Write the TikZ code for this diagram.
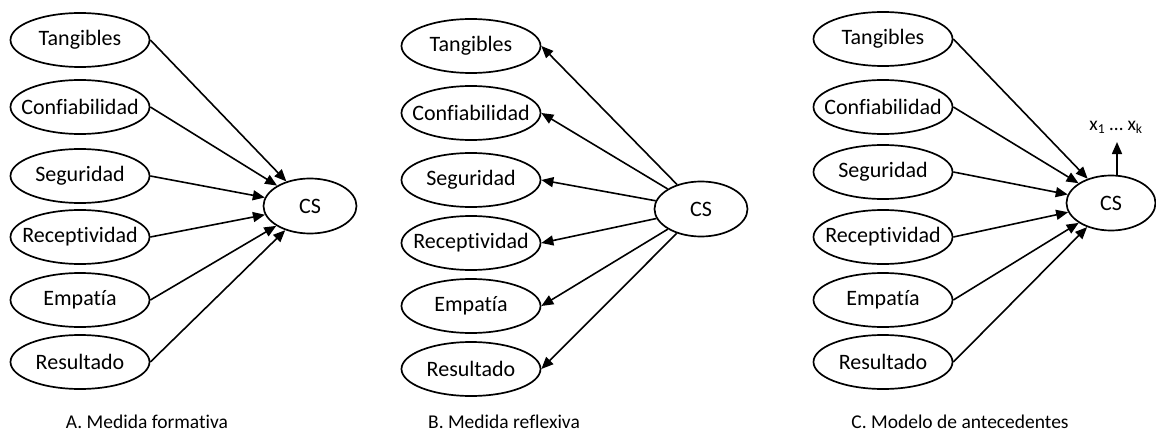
\documentclass[tikz,border=0pt]{standalone}
\usepackage{fontspec}
\setmainfont{Carlito}[Ligatures={NoCommon,NoContextual}]
\usetikzlibrary{arrows.meta,shapes.geometric}
\begin{document}
\begin{tikzpicture}[x=1pt,y=-1pt,
  var/.style={draw,line width=1.7pt,ellipse,minimum width=139pt,minimum height=54pt,inner sep=0pt,font=\fontsize{22}{26}\selectfont},
  cs/.style={var,minimum width=93pt,minimum height=55pt},
  link/.style={line width=1.6pt,-{Triangle[length=12pt,width=10pt]}},
  captxt/.style={font=\fontsize{19.5}{23}\selectfont,inner sep=0pt}]
\useasboundingbox (0,0) rectangle (1156,433);
% Panel A
\node[var] (aT) at (80,40) {\makebox[0pt]{Tangibles}};
\node[var] (aC) at (80,107) {\makebox[0pt]{Confiabilidad}};
\node[var] (aS) at (80,176) {\makebox[0pt]{Seguridad}};
\node[var] (aR) at (80,237) {\makebox[0pt]{Receptividad}};
\node[var] (aE) at (80,300) {\makebox[0pt]{Empatía}};
\node[var] (aU) at (80,362) {\makebox[0pt]{Resultado}};
\node[cs] (aCS) at (310,206) {\makebox[0pt]{CS}};
\foreach \n in {aT,aC,aS,aR,aE,aU} \draw[link] (\n.east) -- (aCS);
\node[captxt] (capA) at (147,422) {A. Medida formativa};
% Panel B
\node[var] (bT) at (471,46) {\makebox[0pt]{Tangibles}};
\node[var] (bC) at (471,113) {\makebox[0pt]{Confiabilidad}};
\node[var] (bS) at (471,180) {\makebox[0pt]{Seguridad}};
\node[var] (bR) at (471,243) {\makebox[0pt]{Receptividad}};
\node[var] (bE) at (471,306) {\makebox[0pt]{Empatía}};
\node[var] (bU) at (471,369) {\makebox[0pt]{Resultado}};
\node[cs] (bCS) at (701,209) {\makebox[0pt]{CS}};
\foreach \n in {bT,bC,bS,bR,bE,bU} \draw[link] (bCS) -- (\n.east);
\node[captxt] (capB) at (504,422) {B. Medida reflexiva};
% Panel C
\node[var] (cT) at (883,39) {\makebox[0pt]{Tangibles}};
\node[var] (cC) at (883,107) {\makebox[0pt]{Confiabilidad}};
\node[var] (cS) at (883,172) {\makebox[0pt]{Seguridad}};
\node[var] (cR) at (883,237) {\makebox[0pt]{Receptividad}};
\node[var] (cE) at (883,300) {\makebox[0pt]{Empatía}};
\node[var] (cU) at (883,362) {\makebox[0pt]{Resultado}};
\node[cs,minimum width=89pt] (cCS) at (1111,203) {\makebox[0pt]{CS}};
\foreach \n in {cT,cC,cS,cR,cE,cU} \draw[link] (\n.east) -- (cCS);
\node[captxt] (xk) at (1116,127) {x\textsubscript{1} … x\textsubscript{k}};
\coordinate (xtip) at (1117,142);
\draw[link] (cCS.north -| xtip) -- (xtip);
\node[captxt] (capC) at (960,422) {C. Modelo de antecedentes};
\end{tikzpicture}
\end{document}
